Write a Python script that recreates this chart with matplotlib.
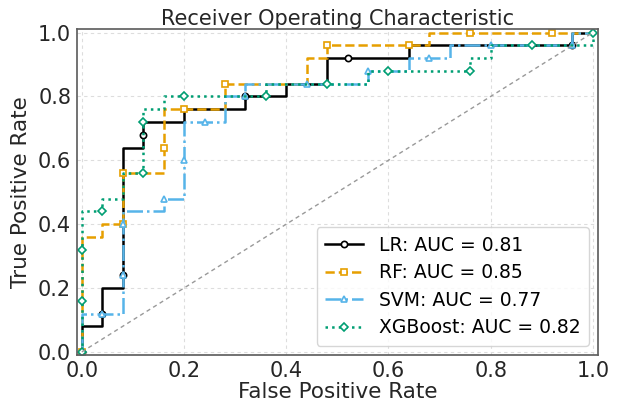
import matplotlib
matplotlib.use("Agg")
import matplotlib.pyplot as plt

# ROC vertices (fpr, tpr)
lr_fpr = [0, 0, 0.04, 0.04, 0.04, 0.08, 0.08, 0.08, 0.12, 0.12, 0.12, 0.20, 0.20, 0.32, 0.32, 0.40, 0.40, 0.48, 0.48, 0.52, 0.64, 0.64, 0.96, 0.96, 1.0]
lr_tpr = [0, 0.08, 0.08, 0.12, 0.20, 0.20, 0.24, 0.64, 0.64, 0.68, 0.72, 0.72, 0.76, 0.76, 0.80, 0.80, 0.84, 0.84, 0.92, 0.92, 0.92, 0.96, 0.96, 1.0, 1.0]
lr_marks = [0, 3, 6, 9, 14, 19, 22]

rf_fpr = [0, 0, 0, 0, 0.04, 0.04, 0.08, 0.08, 0.16, 0.16, 0.16, 0.20, 0.28, 0.28, 0.44, 0.44, 0.48, 0.48, 0.64, 0.68, 0.68, 0.76, 0.92, 1.0]
rf_tpr = [0, 0.16, 0.32, 0.36, 0.36, 0.40, 0.40, 0.56, 0.56, 0.64, 0.76, 0.76, 0.76, 0.84, 0.84, 0.92, 0.92, 0.96, 0.96, 0.96, 1.0, 1.0, 1.0, 1.0]
rf_marks = [0, 6, 7, 9, 11, 13, 17, 18, 21, 22]

svm_fpr = [0, 0, 0.04, 0.08, 0.08, 0.08, 0.08, 0.16, 0.16, 0.20, 0.20, 0.20, 0.24, 0.28, 0.28, 0.32, 0.32, 0.44, 0.56, 0.56, 0.64, 0.64, 0.68, 0.72, 0.72, 0.80, 0.96, 0.96, 1.0]
svm_tpr = [0, 0.12, 0.12, 0.12, 0.24, 0.40, 0.44, 0.44, 0.48, 0.48, 0.60, 0.72, 0.72, 0.72, 0.80, 0.80, 0.84, 0.84, 0.84, 0.88, 0.88, 0.92, 0.92, 0.92, 0.96, 0.96, 0.96, 1.0, 1.0]
svm_marks = [0, 2, 4, 5, 8, 10, 12, 15, 17, 19, 22, 25, 26]

xgb_fpr = [0, 0, 0, 0, 0.04, 0.04, 0.08, 0.08, 0.12, 0.12, 0.12, 0.16, 0.16, 0.20, 0.36, 0.36, 0.48, 0.56, 0.56, 0.60, 0.76, 0.76, 0.80, 0.80, 0.88, 1.0, 1.0]
xgb_tpr = [0, 0.16, 0.32, 0.44, 0.44, 0.48, 0.48, 0.56, 0.56, 0.72, 0.76, 0.76, 0.80, 0.80, 0.80, 0.84, 0.84, 0.84, 0.88, 0.88, 0.88, 0.92, 0.92, 0.96, 0.96, 0.96, 1.0]
xgb_marks = [0, 1, 2, 4, 8, 9, 13, 14, 16, 19, 20, 24, 26]

labels = ["LR: AUC = 0.81", "RF: AUC = 0.85", "SVM: AUC = 0.77", "XGBoost: AUC = 0.82"]
colors = ["#000000", "#E69F00", "#56B4E9", "#009E73"]
styles = ["-", "--", "-.", ":"]
markers = ["o", "s", "^", "D"]

fig = plt.figure(figsize=(6.19, 4.03), dpi=100)
ax = fig.add_axes([0.124, 0.119, 0.842, 0.808])

series = [(lr_fpr, lr_tpr, lr_marks), (rf_fpr, rf_tpr, rf_marks),
          (svm_fpr, svm_tpr, svm_marks), (xgb_fpr, xgb_tpr, xgb_marks)]
for (f, t, m), lab, c, ls, mk in zip(series, labels, colors, styles, markers):
    ax.plot(f, t, color=c, linestyle=ls, linewidth=1.8, marker=mk, markevery=m,
            markersize=4.5 if mk != "D" else 4, markerfacecolor="white",
            markeredgecolor=c, markeredgewidth=1.2, label=lab)

ax.plot([0, 1], [0, 1], color="#999999", linestyle=(0, (3, 2.5)), linewidth=1.0)

ax.set_xlim(-0.01, 1.01)
ax.set_ylim(-0.01, 1.01)
ax.set_xticks([0, 0.2, 0.4, 0.6, 0.8, 1.0])
ax.set_yticks([0, 0.2, 0.4, 0.6, 0.8, 1.0])
ax.tick_params(axis="both", labelsize=15, length=0, pad=4, colors="#262626")
ax.grid(True, color="#dddddd", linestyle=(0, (3, 3)), linewidth=0.8)
ax.set_axisbelow(True)
for s in ax.spines.values():
    s.set_color("#606060")
    s.set_linewidth(1.25)

ax.set_xlabel("False Positive Rate", fontsize=15.5, color="#262626", labelpad=1)
ax.set_ylabel("True Positive Rate", fontsize=15.5, color="#262626", labelpad=5)
ax.set_title("Receiver Operating Characteristic", fontsize=15, color="#262626", pad=1)

leg = ax.legend(loc="lower right", fontsize=13.5, frameon=True, fancybox=True,
                borderpad=0.45, handlelength=2.0, handletextpad=0.85, labelspacing=0.45)
leg.get_frame().set_edgecolor("#cccccc")

fig.savefig("out.png", dpi=100)
